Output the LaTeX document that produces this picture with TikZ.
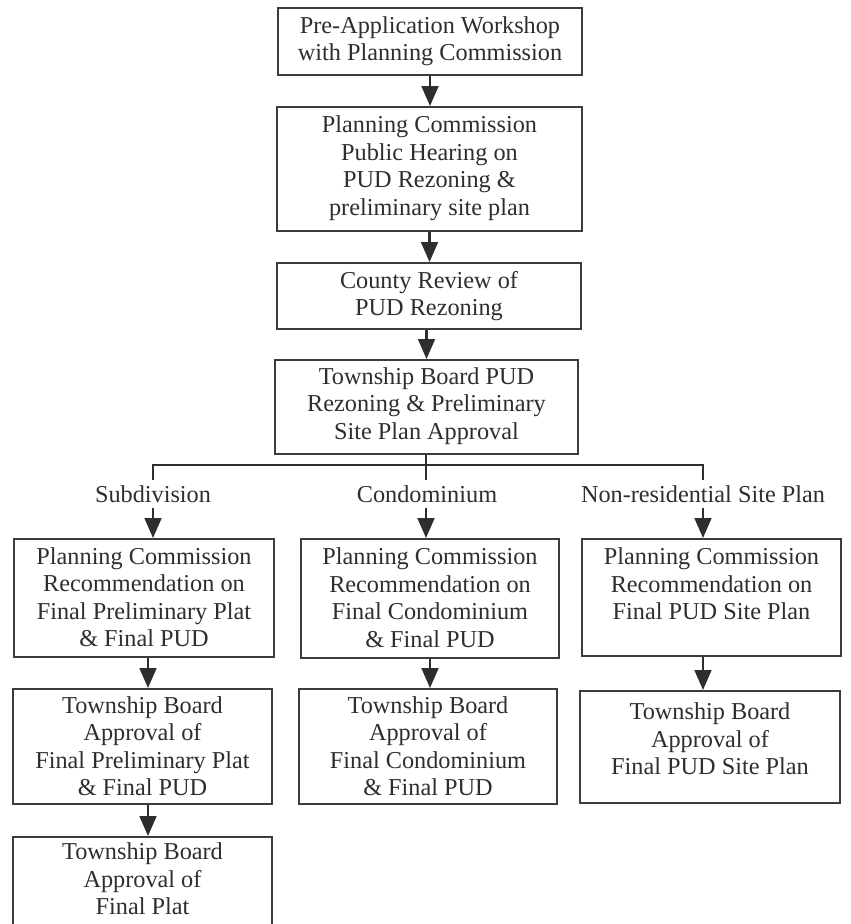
\documentclass[tikz,border=0pt]{standalone}
\usepackage{fontspec}
\setmainfont{Liberation Serif}
\usetikzlibrary{arrows.meta}
\definecolor{ink}{HTML}{2E2E2E}
\definecolor{frame}{HTML}{3C3C3C}
\tikzset{
  box/.style={draw=frame, line width=1.4pt, rectangle, inner sep=0pt},
  txt/.style={align=center, text=ink, inner sep=0pt, font=\fontsize{18.2}{20.6}\selectfont},
  conn/.style={draw=ink, line width=2pt},
  arr/.style={conn, -{Triangle[length=15pt, width=12.5pt]}},
  branchlbl/.style={fill=white, text=ink, inner xsep=2pt, inner ysep=4pt, font=\fontsize{18.2}{20.6}\selectfont}
}
\begin{document}
\begin{tikzpicture}[x=0.75pt, y=-0.75pt]
\clip (0,0) rectangle (850,924);
\fill[white] (0,0) rectangle (850,924);
% main column boxes
\node[box, minimum width=228pt, minimum height=50.25pt] (b1) at (430,41.5) {};
\node[txt] (b1t) at (430,41) {Pre-Application Workshop\\with Planning Commission};
\node[box, minimum width=228.75pt, minimum height=93pt] (b2) at (429.5,169) {};
\node[txt] (b2t) at (429.5,168) {Planning Commission\\Public Hearing on\\PUD Rezoning \&\\preliminary site plan};
\node[box, minimum width=228pt, minimum height=49.5pt] (b3) at (429,296) {};
\node[txt] (b3t) at (429,296) {County Review of\\PUD Rezoning};
\node[box, minimum width=227.25pt, minimum height=70.5pt] (b4) at (426.5,407) {};
\node[txt] (b4t) at (426.5,406) {Township Board PUD\\Rezoning \& Preliminary\\Site Plan Approval};
% row 1
\node[box, minimum width=195pt, minimum height=88.5pt] (l1) at (144,598) {};
\node[txt] (l1t) at (144,597) {Planning Commission\\Recommendation on\\Final Preliminary Plat\\\& Final PUD};
\node[box, minimum width=193.5pt, minimum height=89.25pt] (m1) at (430,598.5) {};
\node[txt] (m1t) at (430,597.5) {Planning Commission\\Recommendation on\\Final Condominium\\\& Final PUD};
\node[box, minimum width=194.25pt, minimum height=87.75pt] (r1) at (711.5,597.5) {};
\node[txt] (r1t) at (711.5,584) {Planning Commission\\Recommendation on\\Final PUD Site Plan};
% row 2
\node[box, minimum width=194.25pt, minimum height=86.25pt] (l2) at (142.5,746.5) {};
\node[txt] (l2t) at (142.5,746) {Township Board\\Approval of\\Final Preliminary Plat\\\& Final PUD};
\node[box, minimum width=193.5pt, minimum height=86.25pt] (m2) at (428,746.5) {};
\node[txt] (m2t) at (428,746) {Township Board\\Approval of\\Final Condominium\\\& Final PUD};
\node[box, minimum width=195pt, minimum height=84pt] (r2) at (710,747) {};
\node[txt] (r2t) at (710,739) {Township Board\\Approval of\\Final PUD Site Plan};
% row 3
\node[box, minimum width=194.25pt, minimum height=73.5pt] (l3) at (142.5,886) {};
\node[txt] (l3t) at (142.5,879) {Township Board\\Approval of\\Final Plat};
% main arrows
\draw[arr] (b1.south) -- (b1.south |- b2.north);
\draw[arr] (b2.south) -- (b2.south |- b3.north);
\draw[arr] (b3.south -| b4.north) -- (b4.north);
% branch
\coordinate (brc) at (426,465);
\coordinate (brl) at (153,465);
\coordinate (brr) at (703,465);
\draw[conn] (b4.south -| brc) -- (brc);
\draw[conn] ([xshift=-0.75pt]brl) -- ([xshift=0.75pt]brr);
\draw[arr] (brl) -- (brl |- l1.north);
\draw[arr] (brc) -- (brc |- m1.north);
\draw[arr] (brr) -- (brr |- r1.north);
\node[branchlbl] (lblsub) at (153,494) {Subdivision};
\node[branchlbl] (lblcon) at (427,494) {Condominium};
\node[branchlbl] (lblnon) at (703,494) {Non-residential Site Plan};
% lower arrows
\coordinate (lx) at (148,0);
\draw[arr] (l1.south -| lx) -- (l2.north -| lx);
\draw[arr] (l2.south -| lx) -- (l3.north -| lx);
\draw[arr] (m1.south) -- (m1.south |- m2.north);
\draw[arr] (r1.south -| brr) -- (r2.north -| brr);
\end{tikzpicture}
\end{document}
